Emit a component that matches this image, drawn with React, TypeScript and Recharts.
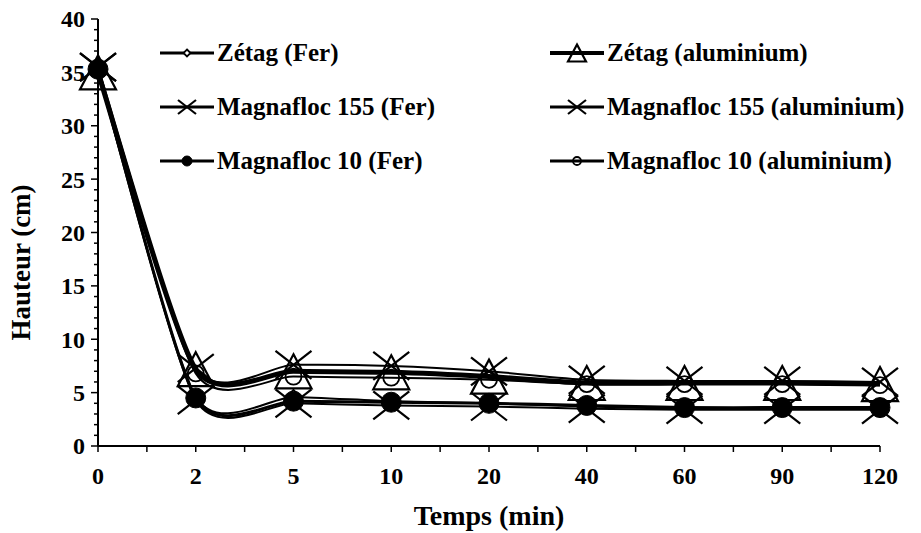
import React from 'react';
import { LineChart, Line, XAxis, YAxis } from 'recharts';

const categories = ['0', '2', '5', '10', '20', '40', '60', '90', '120'];
const zetagFer = [35.0, 4.6, 4.6, 4.2, 4.0, 3.7, 3.5, 3.5, 3.5];
const zetagAlu = [35.0, 7.2, 7.0, 6.9, 6.5, 5.9, 5.9, 5.9, 5.8];
const m155Fer = [35.5, 4.3, 4.0, 3.8, 3.7, 3.5, 3.4, 3.4, 3.4];
const m155Alu = [35.5, 7.3, 7.6, 7.5, 7.0, 6.2, 6.1, 6.1, 6.0];
const m10Fer = [35.3, 4.5, 4.2, 4.1, 4.0, 3.8, 3.6, 3.6, 3.6];
const m10Alu = [35.3, 6.8, 6.5, 6.4, 6.2, 5.8, 5.8, 5.8, 5.7];

const yTicks = Array.from({ length: 41 }, (_, i) => i);
const xTicks = Array.from({ length: 17 }, (_, i) => i / 2);

const data = categories.map((c, i) => ({
  idx: i,
  cat: c,
  zetagFer: zetagFer[i],
  zetagAlu: zetagAlu[i],
  m155Fer: m155Fer[i],
  m155Alu: m155Alu[i],
  m10Fer: m10Fer[i],
  m10Alu: m10Alu[i],
}));

const FONT = "'Liberation Serif', serif";

// Excel-like smoothed curve (Catmull-Rom style)
const TENSION = 0.115;
const excelCurve: any = (context: any) => {
  let pts: [number, number][] = [];
  return {
    areaStart() {},
    areaEnd() {},
    lineStart() {
      pts = [];
    },
    lineEnd() {
      const n = pts.length;
      if (!n) return;
      context.moveTo(pts[0][0], pts[0][1]);
      for (let i = 0; i < n - 1; i++) {
        const p0 = pts[Math.max(i - 1, 0)];
        const p1 = pts[i];
        const p2 = pts[i + 1];
        const p3 = pts[Math.min(i + 2, n - 1)];
        context.bezierCurveTo(
          p1[0] + (p2[0] - p0[0]) * TENSION,
          p1[1] + (p2[1] - p0[1]) * TENSION,
          p2[0] - (p3[0] - p1[0]) * TENSION,
          p2[1] - (p3[1] - p1[1]) * TENSION,
          p2[0],
          p2[1]
        );
      }
    },
    point(x: number, y: number) {
      pts.push([+x, +y]);
    },
  };
};

type Shape = 'diamond' | 'triangle' | 'cross' | 'filled' | 'open';

const drawMarker = (shape: Shape, cx: number, cy: number, s: number, key?: any) => {
  const k = key;
  switch (shape) {
    case 'diamond':
      return (
        <polygon key={k} points={`${cx},${cy - 7 * s} ${cx + 7 * s},${cy} ${cx},${cy + 7 * s} ${cx - 7 * s},${cy}`}
          fill="#fff" stroke="#000" strokeWidth={1.8} />
      );
    case 'triangle':
      return (
        <polygon key={k} points={`${cx},${cy - 17 * s} ${cx + 18 * s},${cy + 17 * s} ${cx - 18 * s},${cy + 17 * s}`}
          fill="none" stroke="#000" strokeWidth={2.2} />
      );
    case 'cross':
      return (
        <g key={k} stroke="#000" strokeWidth={2.2}>
          <line x1={cx - 18 * s} y1={cy - 14 * s} x2={cx + 18 * s} y2={cy + 14 * s} />
          <line x1={cx - 18 * s} y1={cy + 14 * s} x2={cx + 18 * s} y2={cy - 14 * s} />
        </g>
      );
    case 'filled':
      return <circle key={k} cx={cx} cy={cy} r={10 * s} fill="#000" stroke="#000" />;
    case 'open':
    default:
      return <circle key={k} cx={cx} cy={cy} r={8 * s} fill="none" stroke="#000" strokeWidth={1.8} />;
  }
};

const series: { key: string; name: string; shape: Shape; width: number }[] = [
  { key: 'zetagFer', name: 'Zétag (Fer)', shape: 'diamond', width: 2 },
  { key: 'zetagAlu', name: 'Zétag (aluminium)', shape: 'triangle', width: 5 },
  { key: 'm155Fer', name: 'Magnafloc 155 (Fer)', shape: 'cross', width: 2 },
  { key: 'm155Alu', name: 'Magnafloc 155 (aluminium)', shape: 'cross', width: 2 },
  { key: 'm10Fer', name: 'Magnafloc 10 (Fer)', shape: 'filled', width: 3 },
  { key: 'm10Alu', name: 'Magnafloc 10 (aluminium)', shape: 'open', width: 2 },
];

const YTick = (props: any) => {
  const { x, y, payload } = props;
  const v = payload.value;
  const major = v % 5 === 0;
  return (
    <g>
      <line x1={x} y1={y} x2={x - (major ? 7 : 4)} y2={y} stroke="#000" strokeWidth={1.5} />
      {major && (
        <text x={x - 13} y={y} dy="0.35em" textAnchor="end" fontFamily={FONT} fontWeight="bold" fontSize={24} fill="#000">
          {v}
        </text>
      )}
    </g>
  );
};

const XTick = (props: any) => {
  const { x, y, payload } = props;
  const v = payload.value;
  const major = Number.isInteger(v);
  return (
    <g>
      <line x1={x} y1={y} x2={x} y2={y + 6} stroke="#000" strokeWidth={1.5} />
      {major && (
        <text x={x} y={y + 30} dy="0.35em" textAnchor="middle" fontFamily={FONT} fontWeight="bold" fontSize={24} fill="#000">
          {categories[v]}
        </text>
      )}
    </g>
  );
};

const XLabel = (props: any) => {
  const vb = props.viewBox;
  return (
    <text x={vb.x + vb.width / 2} y={vb.y + 79} textAnchor="middle" fontFamily={FONT} fontWeight="bold" fontSize={28} fill="#000">
      Temps (min)
    </text>
  );
};

const YLabel = (props: any) => {
  const vb = props.viewBox;
  const cx = vb.x + 30;
  const cy = vb.y + vb.height / 2 + 30;
  return (
    <text x={cx} y={cy} transform={`rotate(-90 ${cx} ${cy})`} textAnchor="middle" fontFamily={FONT} fontWeight="bold" fontSize={27} fill="#000">
      Hauteur (cm)
    </text>
  );
};

const LegendItem = ({ s }: { s: (typeof series)[number] }) => (
  <div style={{ display: 'flex', alignItems: 'center', height: 54 }}>
    <svg width={54} height={30} style={{ display: 'block' }}>
      <line x1={0} y1={15} x2={54} y2={15} stroke="#000" strokeWidth={s.width === 5 ? 4 : 3} />
      {drawMarker(s.shape, 27, 15, 0.5)}
    </svg>
    <span style={{ fontFamily: FONT, fontWeight: 'bold', fontSize: 25, marginLeft: 3, whiteSpace: 'nowrap' }}>{s.name}</span>
  </div>
);

export default function App() {
  return (
    <div style={{ position: 'absolute', left: 0, top: 0, width: 921, height: 533, background: '#fff' }}>
      <LineChart width={921} height={533} data={data} margin={{ top: 19, right: 41, bottom: 0, left: 0 }}>
        <XAxis
          dataKey="idx"
          type="number"
          domain={[0, 8]}
          ticks={xTicks}
          interval={0}
          tickSize={0}
          tickMargin={0}
          tick={<XTick />}
          height={87}
          axisLine={{ stroke: '#000', strokeWidth: 2 }}
          label={<XLabel />}
        />
        <YAxis
          type="number"
          domain={[0, 40]}
          ticks={yTicks}
          interval={0}
          tickSize={0}
          tickMargin={0}
          tick={<YTick />}
          width={98}
          axisLine={{ stroke: '#000', strokeWidth: 2 }}
          label={<YLabel />}
        />
        {series.map((s) => (
          <Line
            key={s.key}
            dataKey={s.key}
            name={s.name}
            type={excelCurve}
            stroke="#000"
            strokeWidth={s.width}
            isAnimationActive={false}
            dot={(p: any) => drawMarker(s.shape, p.cx, p.cy, 1, `${s.key}-${p.index}`)}
            activeDot={false}
          />
        ))}
      </LineChart>
      <div style={{ position: 'absolute', left: 160, top: 26, display: 'grid', gridTemplateColumns: '390px 370px', rowGap: 0 }}>
        {series.map((s) => (
          <LegendItem key={s.key} s={s} />
        ))}
      </div>
    </div>
  );
}
